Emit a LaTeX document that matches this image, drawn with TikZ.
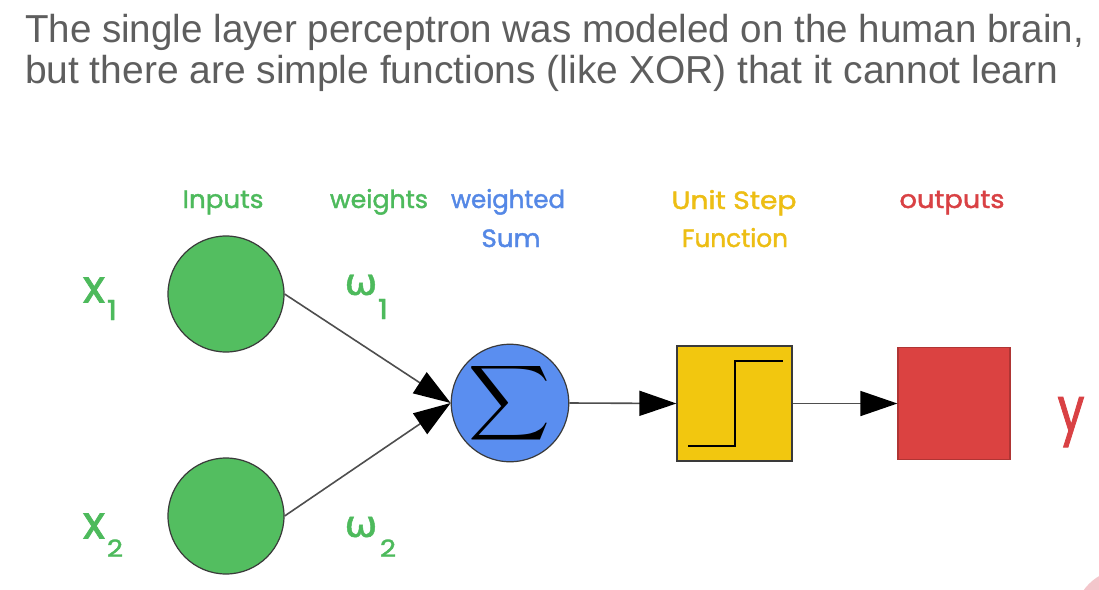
\documentclass[tikz,border=0pt]{standalone}
\usepackage{fontspec}
\usepackage{graphicx}
\usetikzlibrary{arrows.meta}
\setmainfont{Liberation Sans}
\newfontfamily\hwfont[FakeBold=1.6]{Poppins}
\newfontfamily\grfont[FakeBold=1.2]{DejaVu Sans}
\definecolor{ttl}{HTML}{5E5E5E}
\definecolor{cgreen}{HTML}{53BE60}
\definecolor{lgreen}{HTML}{4DBA5C}
\definecolor{cblue}{HTML}{5A8EF0}
\definecolor{lblue}{HTML}{5588E6}
\definecolor{cyellow}{HTML}{F2C70F}
\definecolor{lyellow}{HTML}{EDBE14}
\definecolor{cred}{HTML}{DB4241}
\definecolor{lred}{HTML}{D94144}
\definecolor{edge}{HTML}{3A3A3A}
\definecolor{pinkish}{HTML}{F3C6CB}
\newcommand\hwl[2]{{\hwfont\fontsize{25}{27}\selectfont\resizebox{#1}{\height}{#2}}}
\begin{document}
\begin{tikzpicture}[x=1pt,y=-1pt,
  lbl/.style={inner sep=0pt, outer sep=0pt},
  neuron/.style={circle, inner sep=0pt, minimum size=116pt, draw=edge, line width=1.2pt},
  blockbox/.style={rectangle, inner sep=0pt, draw=edge, line width=1.2pt},
  conn/.style={draw=edge!90, line width=1.6pt, -{Triangle[length=37pt,width=25pt,color=black]}}]
\useasboundingbox (0,0) rectangle (1099,589);
\fill[white] (0,0) rectangle (1099,589);
\begin{scope}
  \clip (0,0) rectangle (1099,589);
  \fill[pinkish] (1125,620) circle (51);
\end{scope}
% title
\node[lbl, anchor=base west, text=ttl] (t1) at (25,42)
  {\fontsize{39}{42}\selectfont\resizebox{1059pt}{\height}{The single layer perceptron was modeled on the human brain,}};
\node[lbl, anchor=base west, text=ttl] (t2) at (25,83)
  {\fontsize{39}{42}\selectfont\resizebox{1033pt}{\height}{but there are simple functions (like XOR) that it cannot learn}};
% column labels
\node[lbl, anchor=base, text=lgreen] (linp) at (223,208) {\hwl{81pt}{Inputs}};
\node[lbl, anchor=base, text=lgreen] (lw) at (379,208) {\hwl{98pt}{weights}};
\node[lbl, anchor=base, text=lblue] (lws) at (508,208) {\hwl{114pt}{weighted}};
\node[lbl, anchor=base, text=lblue] (lsum) at (511,247) {\hwl{59pt}{Sum}};
\node[lbl, anchor=base, text=lyellow] (lus) at (734,209) {\hwl{125pt}{Unit Step}};
\node[lbl, anchor=base, text=lyellow] (lfn) at (735,247) {\hwl{106pt}{Function}};
\node[lbl, anchor=base, text=lred] (lout) at (952,208) {\hwl{105pt}{outputs}};
% variable labels
\node[lbl, text=lgreen] (x1) at (94,290) {\resizebox{22pt}{25pt}{\hwfont x}};
\node[lbl, text=lgreen] (x1s) at (112,310) {\resizebox{10pt}{20pt}{\hwfont 1}};
\node[lbl, text=lgreen] (x2) at (94,526) {\resizebox{22pt}{25pt}{\hwfont x}};
\node[lbl, text=lgreen] (x2s) at (115,548) {\resizebox{16pt}{17pt}{\hwfont 2}};
\node[lbl, text=lgreen] (w1) at (361,285) {\resizebox{33pt}{20pt}{\grfont ω}};
\node[lbl, text=lgreen] (w1s) at (383,309) {\resizebox{10pt}{20pt}{\hwfont 1}};
\node[lbl, text=lgreen] (w2) at (361,527) {\resizebox{33pt}{20pt}{\grfont ω}};
\node[lbl, text=lgreen] (w2s) at (388,548) {\resizebox{16pt}{17pt}{\hwfont 2}};
\node[lbl, text=lred] (yl) at (1071,422) {\resizebox*{27pt}{50pt}{\hwfont y}};
% nodes
\node[neuron, fill=cgreen] (in1) at (226,294) {};
\node[neuron, fill=cgreen] (in2) at (226,516) {};
\node[neuron, fill=cblue, minimum size=117pt] (sig) at (510,403)
  {\resizebox*{82pt}{84pt}{$\displaystyle\sum$}};
\node[blockbox, fill=cyellow, minimum size=115pt] (stp) at (734.5,403.5) {};
\node[blockbox, fill=cred, draw=cred!80!black, minimum size=112pt] (out) at (954,403.5) {};
\draw[black, line width=2.6pt]
  ([shift={(-46.5,42.5)}]stp.center) -- ([shift={(0.5,42.5)}]stp.center)
  -- ([shift={(0.5,-42.5)}]stp.center) -- ([shift={(48.5,-42.5)}]stp.center);
% connectors
\draw[conn] (in1.east) -- (sig.west);
\draw[conn] (in2.east) -- (sig.west);
\draw[conn] (sig.east) -- (stp.west);
\draw[conn] (stp.east) -- (out.west);
\end{tikzpicture}
\end{document}
